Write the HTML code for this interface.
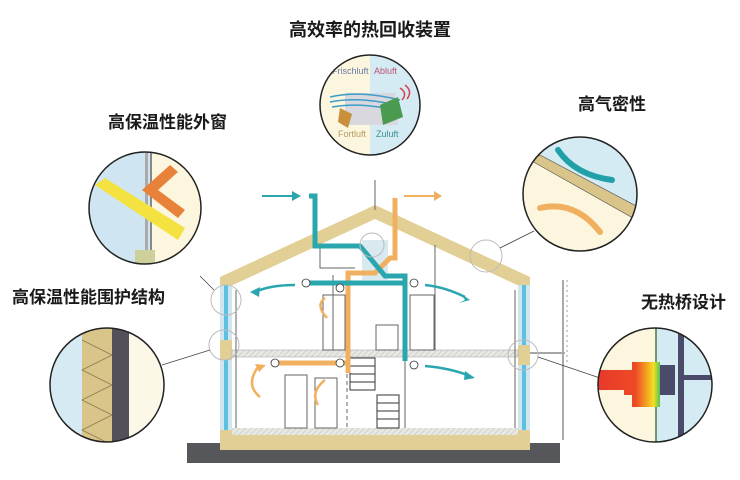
<!DOCTYPE html>
<html><head><meta charset="utf-8"><style>
html,body{margin:0;padding:0;background:#fff;}
svg{display:block;}
.t{font-family:"Liberation Sans","Noto Sans CJK SC",sans-serif;font-weight:bold;fill:#1a1a1a;}
.g{font-family:"Liberation Sans",sans-serif;font-size:9px;}
</style></head><body>
<svg width="740" height="480" viewBox="0 0 740 480" xmlns="http://www.w3.org/2000/svg">
<defs>
<pattern id="h" width="4" height="4" patternUnits="userSpaceOnUse" patternTransform="rotate(45)"><rect width="4" height="4" fill="#e8e8e4"/><line x1="0" y1="0" x2="0" y2="4" stroke="#c8c8c4" stroke-width="1.5"/></pattern>
<linearGradient id="heat" gradientUnits="userSpaceOnUse" x1="596" x2="668" y1="0" y2="0"><stop offset="0" stop-color="#e8382a"/><stop offset="0.55" stop-color="#ee4a26"/><stop offset="0.7" stop-color="#f4a020"/><stop offset="0.8" stop-color="#f4e020"/><stop offset="0.9" stop-color="#40c060"/><stop offset="1" stop-color="#2060c0"/></linearGradient>
<clipPath id="c1"><circle cx="370" cy="105" r="50"/></clipPath>
<clipPath id="c2"><circle cx="145" cy="208" r="56"/></clipPath>
<clipPath id="c3"><circle cx="107" cy="385" r="57"/></clipPath>
<clipPath id="c4"><circle cx="580" cy="194" r="57"/></clipPath>
<clipPath id="c5"><circle cx="655" cy="385" r="57"/></clipPath>
</defs>

<text class="t" x="370" y="36" font-size="18" text-anchor="middle">高效率的热回收装置</text>
<text class="t" x="108" y="128" font-size="17">高保温性能外窗</text>
<text class="t" x="578" y="110" font-size="17">高气密性</text>
<text class="t" x="12" y="303" font-size="17">高保温性能围护结构</text>
<text class="t" x="641" y="308" font-size="17">无热桥设计</text>

<rect x="187" y="443" width="373" height="20" fill="#55575a"/>
<rect x="220" y="430" width="310" height="20" fill="#e2cf95"/>
<rect x="232" y="428" width="286" height="7" fill="url(#h)"/>
<polygon points="220,277 375,205 530,277 530,291 375,219 220,291" fill="#e2cf95"/>
<rect x="220" y="285" width="12" height="145" fill="#cfe6ef"/>
<rect x="224" y="285" width="4" height="145" fill="#5cc0e0"/>
<rect x="518" y="285" width="12" height="145" fill="#cfe6ef"/>
<rect x="522" y="285" width="4" height="145" fill="#5cc0e0"/>
<rect x="220" y="340" width="12" height="20" fill="#e2cf95"/>
<rect x="518" y="345" width="12" height="20" fill="#e2cf95"/>
<rect x="232" y="350" width="286" height="7" fill="url(#h)" stroke="#aaa" stroke-width="0.6"/>
<line x1="530" y1="353" x2="565" y2="353" stroke="#888" stroke-width="1.5"/>
<line x1="563" y1="280" x2="563" y2="440" stroke="#aaa" stroke-width="2"/>
<line x1="567" y1="280" x2="567" y2="365" stroke="#888" stroke-width="0.8" stroke-dasharray="2,3"/>
<g stroke="#666" stroke-width="1" fill="none">
<line x1="236" y1="290" x2="236" y2="428"/>
<line x1="515" y1="290" x2="515" y2="428"/>
<line x1="333" y1="275" x2="333" y2="350"/>
<line x1="435" y1="245" x2="435" y2="350"/>
<line x1="405" y1="360" x2="405" y2="428"/>
<rect x="323" y="295" width="22" height="55"/>
<rect x="410" y="295" width="24" height="55"/>
<rect x="285" y="375" width="22" height="53"/>
<rect x="315" y="378" width="22" height="50"/>
<rect x="376" y="325" width="22" height="25"/>
<line x1="375" y1="180" x2="375" y2="210"/>
<path d="M320,248 v20 h35"/>
<line x1="347" y1="360" x2="347" y2="428" stroke-dasharray="4,3"/>
</g>
<g stroke="#333" stroke-width="1" fill="#fff">
<rect x="350" y="358" width="25" height="32"/>
<line x1="350" y1="366" x2="375" y2="366"/><line x1="350" y1="374" x2="375" y2="374"/><line x1="350" y1="382" x2="375" y2="382"/>
<rect x="377" y="395" width="22" height="33"/>
<line x1="377" y1="403" x2="399" y2="403"/><line x1="377" y1="411" x2="399" y2="411"/><line x1="377" y1="419" x2="399" y2="419"/>
</g>
<rect x="362" y="240" width="26" height="40" fill="#cfe4ec" opacity="0.8"/>
<g stroke="#f0b060" stroke-width="5" fill="none" stroke-linejoin="miter">
<path d="M395,198 v60 h-5 l-15,15 h-27 v100"/>
<path d="M276,363 h70"/>
</g>
<path d="M404,196 h30" stroke="#f0b060" stroke-width="2"/><polygon points="434,191 442,196 434,201" fill="#f0b060"/>
<g stroke="#2aa6ae" stroke-width="5" fill="none">
<path d="M309,196 h6 v50 h45 l25,30 h20 v85"/>
<path d="M305,283 h100"/>
</g>
<path d="M262,196 h30" stroke="#2aa6ae" stroke-width="2"/><polygon points="292,191 301,196 292,201" fill="#2aa6ae"/>
<g fill="none" stroke-width="2.5">
<path d="M295,285 Q270,285 255,292" stroke="#2aa6ae"/>
<path d="M425,285 Q445,287 465,297" stroke="#2aa6ae"/>
<path d="M425,366 Q450,368 470,376" stroke="#2aa6ae"/>
<path d="M260,397 Q245,385 258,367" stroke="#f0b060"/>
<path d="M327,318 Q315,305 325,298" stroke="#f0b060"/>
<path d="M318,405 Q310,392 325,380" stroke="#f0b060"/>
</g>
<polygon points="250,292 260,287 259,297" fill="#2aa6ae"/>
<polygon points="470,300 460,293 465,300 459,303" fill="#2aa6ae"/>
<polygon points="475,378 465,371 464,380" fill="#2aa6ae"/>
<polygon points="266,365 255,364 259,372" fill="#f0b060"/>
<g fill="#fff" stroke="#333" stroke-width="0.8">
<circle cx="306" cy="283" r="4"/><circle cx="340" cy="288" r="4"/><circle cx="414" cy="283" r="4"/>
<circle cx="275" cy="363" r="4"/><circle cx="340" cy="363" r="4"/><circle cx="414" cy="365" r="4"/>
</g>
<g fill="none" stroke="#bbb" stroke-width="1">
<circle cx="226" cy="300" r="15"/><circle cx="224" cy="345" r="15"/><circle cx="486" cy="256" r="16"/><circle cx="523" cy="355" r="15"/><circle cx="372" cy="245" r="12"/>
</g>
<g stroke="#444" stroke-width="0.8">
<line x1="200" y1="276" x2="214" y2="290"/><line x1="162" y1="365" x2="210" y2="350"/>
<line x1="500" y1="248" x2="534" y2="231"/><line x1="538" y1="357" x2="600" y2="378"/>
</g>

<g clip-path="url(#c1)">
<rect x="318" y="53" width="52" height="105" fill="#fbf6dd"/>
<rect x="370" y="53" width="52" height="105" fill="#d4ebf4"/>
<polygon points="345,93 395,93 398,125 345,125" fill="#d8d8de"/>
<path d="M330,97 Q360,90 400,100 M330,102 Q360,96 400,106 M332,107 Q360,102 395,110" stroke="#3a9ec8" stroke-width="1.5" fill="none"/>
<path d="M380,105 l18,-8 l5,20 l-20,8z" fill="#4a9a50"/>
<path d="M340,108 l12,6 l-4,14 l-10,-6z" fill="#c8903a"/>
<path d="M400,88 q8,5 2,12 M405,85 q8,6 2,14" stroke="#d84050" stroke-width="1.5" fill="none"/>
<text class="g" x="332" y="74" fill="#6a78a8">Frischluft</text>
<text class="g" x="374" y="74" fill="#c05070">Abluft</text>
<text class="g" x="338" y="137" fill="#b89a60">Fortluft</text>
<text class="g" x="376" y="137" fill="#3a9090">Zuluft</text>
</g>
<circle cx="370" cy="105" r="50" fill="none" stroke="#222" stroke-width="1.5"/>

<g clip-path="url(#c2)">
<rect x="85" y="150" width="120" height="120" fill="#cfe6f2"/>
<polygon points="150,150 205,150 205,270 150,270" fill="#fbf6dd"/>
<rect x="145" y="150" width="3" height="120" fill="#aaa"/>
<rect x="150" y="150" width="2" height="120" fill="#888"/>
<polygon points="95,185 105,178 185,228 178,240" fill="#f4e240"/>
<polygon points="142,190 170,165 178,172 158,190 185,210 178,218" fill="#e8823a"/>
<rect x="135" y="250" width="20" height="20" fill="#cdd09a"/>
</g>
<circle cx="145" cy="208" r="56" fill="none" stroke="#222" stroke-width="1.5"/>

<g clip-path="url(#c3)">
<rect x="48" y="326" width="120" height="120" fill="#d6eaf4"/>
<rect x="82" y="326" width="30" height="120" fill="#d9c48a"/>
<path d="M82,340 L112,355 L82,370 L112,385 L82,400 L112,415 L82,430 L112,445" stroke="#8a7a50" stroke-width="0.8" fill="none"/>
<rect x="112" y="326" width="17" height="120" fill="#54505a"/>
<rect x="129" y="326" width="40" height="120" fill="#fbf8e8"/>
</g>
<circle cx="107" cy="385" r="57" fill="none" stroke="#222" stroke-width="1.5"/>

<g clip-path="url(#c4)">
<rect x="520" y="135" width="120" height="120" fill="#fbf6dd"/>
<polygon points="520,135 640,135 640,215 535,161" fill="#d4ebf4"/>
<polygon points="530,160 540,155 640,208 640,222" fill="#d9c48a" stroke="#555" stroke-width="0.6"/>
<path d="M558,150 Q575,175 612,180" stroke="#22a0a8" stroke-width="6" fill="none" stroke-linecap="round"/>
<path d="M540,208 Q575,200 600,232" stroke="#f0b060" stroke-width="6" fill="none" stroke-linecap="round"/>
</g>
<circle cx="580" cy="194" r="57" fill="none" stroke="#222" stroke-width="1.5"/>

<g clip-path="url(#c5)">
<rect x="596" y="326" width="120" height="120" fill="#fbf6dd"/>
<rect x="656" y="326" width="60" height="120" fill="#d4ebf4"/>
<rect x="655" y="326" width="2" height="120" fill="#6a9a6a"/>
<rect x="678" y="326" width="6" height="120" fill="#4a4a6a"/>
<rect x="684" y="375" width="30" height="5" fill="#4a4a6a"/>
<rect x="660" y="365" width="15" height="30" fill="#4a4a6a"/>
<path d="M596,370 h36 v-8 h28 v45 h-28 v-12 h-8 v-5 h-28z" fill="url(#heat)"/>
</g>
<circle cx="655" cy="385" r="57" fill="none" stroke="#222" stroke-width="1.5"/>
</svg>
</body></html>
